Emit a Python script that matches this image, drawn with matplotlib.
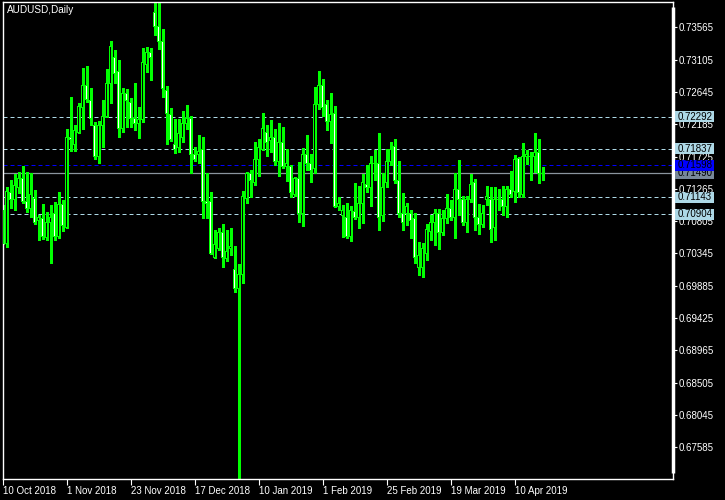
import numpy as np
import matplotlib.pyplot as plt
from matplotlib.patches import Rectangle
from matplotlib.transforms import blended_transform_factory

plt.rcParams['font.family'] = ['Liberation Sans', 'DejaVu Sans']

# AUDUSD daily candles, 10 Oct 2018 .. mid Apr 2019
opens = [0.7096, 0.7049, 0.7122, 0.7111, 0.7129, 0.7141, 0.7109, 0.7098, 0.7113, 0.7081,
         0.7084, 0.7057, 0.7079, 0.7091, 0.7058, 0.7104, 0.7072, 0.7199, 0.7190, 0.7207,
         0.7243, 0.7273, 0.7253, 0.7217, 0.7172, 0.7217, 0.7230, 0.7276, 0.7313, 0.7293,
         0.7213, 0.7263, 0.7249, 0.7226, 0.7219, 0.7225, 0.7304, 0.7320, 0.7377, 0.7357,
         0.7337, 0.7267, 0.7233, 0.7190, 0.7186, 0.7200, 0.7219, 0.7227, 0.7175, 0.7175,
         0.7183, 0.7108, 0.7108, 0.7029, 0.7041, 0.7065, 0.7027, 0.7041, 0.7011, 0.6984,
         0.7005, 0.7113, 0.7148, 0.7136, 0.7169, 0.7183, 0.7207, 0.7195, 0.7200, 0.7165,
         0.7192, 0.7158, 0.7158, 0.7118, 0.7141, 0.7091, 0.7175, 0.7163, 0.7155, 0.7246,
         0.7274, 0.7246, 0.7223, 0.7234, 0.7101, 0.7088, 0.7085, 0.7059, 0.7094, 0.7086,
         0.7105, 0.7132, 0.7129, 0.7163, 0.7163, 0.7089, 0.7135, 0.7166, 0.7187, 0.7139,
         0.7092, 0.7091, 0.7091, 0.7084, 0.7014, 0.7014, 0.7035, 0.7066, 0.7079, 0.7092,
         0.7065, 0.7084, 0.7099, 0.7086, 0.7126, 0.7111, 0.7079, 0.7111, 0.7135, 0.7086,
         0.7076, 0.7111, 0.7112, 0.7071, 0.7112, 0.7112, 0.7102, 0.7125, 0.7123, 0.7170,
         0.7119, 0.7172, 0.7173, 0.7173, 0.7178, 0.7148]
highs = [0.7104, 0.7129, 0.7139, 0.7148, 0.7150, 0.7159, 0.7150, 0.7149, 0.7125, 0.7089,
         0.7105, 0.7094, 0.7104, 0.7108, 0.7122, 0.7111, 0.7212, 0.7257, 0.7217, 0.7249,
         0.7299, 0.7301, 0.7270, 0.7222, 0.7223, 0.7253, 0.7297, 0.7337, 0.7324, 0.7310,
         0.7270, 0.7269, 0.7256, 0.7277, 0.7243, 0.7327, 0.7329, 0.7327, 0.7393, 0.7391,
         0.7354, 0.7273, 0.7242, 0.7226, 0.7226, 0.7237, 0.7246, 0.7230, 0.7186, 0.7203,
         0.7200, 0.7149, 0.7122, 0.7068, 0.7071, 0.7076, 0.7068, 0.7071, 0.7045, 0.7020,
         0.7123, 0.7150, 0.7153, 0.7193, 0.7197, 0.7235, 0.7217, 0.7225, 0.7212, 0.7220,
         0.7215, 0.7183, 0.7160, 0.7143, 0.7165, 0.7185, 0.7203, 0.7176, 0.7272, 0.7294,
         0.7283, 0.7253, 0.7263, 0.7244, 0.7115, 0.7104, 0.7106, 0.7102, 0.7135, 0.7131,
         0.7148, 0.7160, 0.7173, 0.7182, 0.7206, 0.7149, 0.7183, 0.7193, 0.7197, 0.7166,
         0.7121, 0.7106, 0.7096, 0.7092, 0.7051, 0.7049, 0.7076, 0.7089, 0.7098, 0.7098,
         0.7096, 0.7119, 0.7111, 0.7149, 0.7168, 0.7116, 0.7116, 0.7148, 0.7141, 0.7105,
         0.7104, 0.7131, 0.7129, 0.7129, 0.7126, 0.7131, 0.7131, 0.7152, 0.7175, 0.7172,
         0.7192, 0.7182, 0.7179, 0.7206, 0.7197, 0.7158]
lows = [0.7048, 0.7044, 0.7099, 0.7096, 0.7121, 0.7106, 0.7094, 0.7086, 0.7076, 0.7054,
        0.7055, 0.7054, 0.7021, 0.7054, 0.7057, 0.7066, 0.7071, 0.7180, 0.7180, 0.7206,
        0.7212, 0.7250, 0.7217, 0.7169, 0.7163, 0.7186, 0.7229, 0.7249, 0.7277, 0.7200,
        0.7207, 0.7215, 0.7215, 0.7210, 0.7199, 0.7222, 0.7293, 0.7282, 0.7346, 0.7326,
        0.7257, 0.7190, 0.7195, 0.7178, 0.7179, 0.7193, 0.7212, 0.7149, 0.7166, 0.7163,
        0.7085, 0.7085, 0.7034, 0.7028, 0.7039, 0.7015, 0.7024, 0.7032, 0.6980, 0.6714,
        0.6992, 0.7106, 0.7115, 0.7132, 0.7145, 0.7182, 0.7173, 0.7179, 0.7160, 0.7145,
        0.7156, 0.7138, 0.7115, 0.7116, 0.7079, 0.7074, 0.7153, 0.7136, 0.7149, 0.7240,
        0.7230, 0.7210, 0.7192, 0.7101, 0.7096, 0.7058, 0.7057, 0.7052, 0.7084, 0.7071,
        0.7078, 0.7122, 0.7102, 0.7139, 0.7068, 0.7081, 0.7129, 0.7160, 0.7135, 0.7086,
        0.7068, 0.7075, 0.7057, 0.7021, 0.7004, 0.7001, 0.7025, 0.7054, 0.7047, 0.7041,
        0.7061, 0.7078, 0.7082, 0.7057, 0.7089, 0.7075, 0.7065, 0.7108, 0.7068, 0.7062,
        0.7072, 0.7104, 0.7051, 0.7054, 0.7096, 0.7089, 0.7086, 0.7115, 0.7108, 0.7115,
        0.7115, 0.7162, 0.7139, 0.7150, 0.7135, 0.7139]
closes = [0.7049, 0.7123, 0.7112, 0.7131, 0.7141, 0.7109, 0.7098, 0.7119, 0.7079, 0.7085,
          0.7058, 0.7079, 0.7086, 0.7058, 0.7104, 0.7074, 0.7199, 0.7197, 0.7209, 0.7244,
          0.7274, 0.7254, 0.7227, 0.7172, 0.7217, 0.7229, 0.7276, 0.7329, 0.7291, 0.7213,
          0.7262, 0.7253, 0.7226, 0.7219, 0.7225, 0.7306, 0.7320, 0.7313, 0.7357, 0.7336,
          0.7269, 0.7234, 0.7197, 0.7183, 0.7205, 0.7219, 0.7226, 0.7176, 0.7169, 0.7180,
          0.7108, 0.7106, 0.7034, 0.7047, 0.7065, 0.7029, 0.7037, 0.7044, 0.6984, 0.7005,
          0.7115, 0.7148, 0.7138, 0.7169, 0.7185, 0.7213, 0.7193, 0.7200, 0.7165, 0.7192,
          0.7158, 0.7163, 0.7121, 0.7141, 0.7092, 0.7176, 0.7163, 0.7152, 0.7246, 0.7273,
          0.7243, 0.7223, 0.7233, 0.7102, 0.7106, 0.7095, 0.7059, 0.7095, 0.7086, 0.7105,
          0.7136, 0.7129, 0.7163, 0.7162, 0.7086, 0.7128, 0.7166, 0.7183, 0.7139, 0.7092,
          0.7078, 0.7102, 0.7082, 0.7029, 0.7032, 0.7042, 0.7068, 0.7079, 0.7091, 0.7065,
          0.7084, 0.7099, 0.7086, 0.7126, 0.7111, 0.7079, 0.7111, 0.7133, 0.7086, 0.7076,
          0.7092, 0.7115, 0.7069, 0.7112, 0.7111, 0.7102, 0.7125, 0.7119, 0.7168, 0.7121,
          0.7172, 0.7175, 0.7172, 0.7178, 0.7148, 0.7149]

date_labels = ['10 Oct 2018', '1 Nov 2018', '23 Nov 2018', '17 Dec 2018', '10 Jan 2019',
               '1 Feb 2019', '25 Feb 2019', '19 Mar 2019', '10 Apr 2019']
date_bars = [0, 16, 32, 48, 64, 80, 96, 112, 128]

price_ticks = [0.73565, 0.73105, 0.72645, 0.72185, 0.71725, 0.71265, 0.70805,
               0.70345, 0.69885, 0.69425, 0.68965, 0.68505, 0.68045, 0.67585]
levels = [0.72292, 0.71837, 0.71143, 0.70904]
ask = 0.71598
bid = 0.71490

GREEN = '#00ff00'
LBLUE = '#add8e6'
YMIN, YMAX = 0.67133, 0.73926
PX = (YMAX - YMIN) / 477  # price per pixel

fig = plt.figure(figsize=(7.25, 5.0), dpi=100, facecolor='black')
ax = fig.add_axes([3 / 725, 21 / 500, 670 / 725, 477 / 500])
ax.set_facecolor('black')

o = np.array(opens)
h = np.array(highs)
l = np.array(lows)
c = np.array(closes)
idx = np.arange(len(o))
up = c >= o
bot = np.minimum(o, c)
top = np.maximum(o, c)

# candles: wick, 3px green body with a 1px inner fill (bull black, bear white)
ax.vlines(idx, l, h, color=GREEN, lw=0.75, zorder=2, antialiased=False)
ax.bar(idx, top - bot + PX, bottom=bot - PX / 2, width=0.75, color=GREEN,
       linewidth=0, zorder=3, antialiased=False)
inner = np.clip(top - bot - PX, 0, None)
ax.bar(idx, inner, bottom=bot + PX / 2, width=0.25,
       color=np.where(up, 'black', 'white'), linewidth=0, zorder=4,
       antialiased=False)

# horizontal levels
for lv in levels:
    ax.axhline(lv, color=LBLUE, lw=0.72, dashes=(4, 3), zorder=1)
ax.axhline(ask, color='#0000ff', lw=0.72, dashes=(4, 3), zorder=1)
ax.axhline(bid, color='#8a949e', lw=0.9, zorder=1)

ax.set_xlim(0.125, 167.625)
ax.set_ylim(YMIN, YMAX)

# price axis on the right
ax.yaxis.tick_right()
ax.set_yticks(price_ticks)
ax.set_yticklabels([f'{v:.5f}' for v in price_ticks])
ax.tick_params(axis='y', colors='white', length=3, width=0.8, pad=1, labelsize=7)

# date axis
ax.set_xticks(date_bars)
ax.set_xticklabels(date_labels)
ax.tick_params(axis='x', colors='white', length=4, width=0.8, pad=1, labelsize=7)
for lab in ax.get_xticklabels():
    lab.set_horizontalalignment('left')

for sp in ax.spines.values():
    sp.set_color('white')
    sp.set_linewidth(1)
ax.plot([1, 1], [6 / 477, 472 / 477], transform=ax.transAxes, color='white',
        lw=2.5, clip_on=False, solid_capstyle='butt', zorder=4)

# price labels for the lines (bid first so the ask box sits on top of it)
trans = blended_transform_factory(ax.transAxes, ax.transData)
boxes = [(lv, LBLUE) for lv in levels] + [(bid, '#778899'), (ask, '#0000ff')]
for k, (lv, col) in enumerate(boxes):
    ax.add_patch(Rectangle((1 + 2 / 670, lv - 5.5 * PX), 39 / 670, 11 * PX,
                           transform=trans, fc=col, ec='none', clip_on=False,
                           zorder=6 + 2 * k))
    ax.text(1 + 5 / 670, lv, f'{lv:.5f}', transform=trans, ha='left', va='center',
            fontsize=7, color='black', clip_on=False, zorder=7 + 2 * k)

ax.text(4 / 670, 0.994, 'AUDUSD,Daily', transform=ax.transAxes, ha='left', va='top',
        color='white', fontsize=7.2)

fig.savefig('out.png', dpi=100, facecolor='black')
